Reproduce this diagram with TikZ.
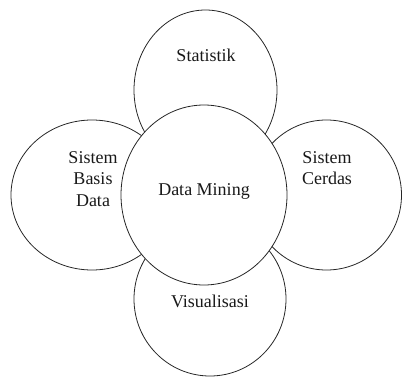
\documentclass[tikz,border=0pt]{standalone}
\usepackage{fontspec}
\setmainfont{Liberation Serif}
\usetikzlibrary{shapes.geometric}
\tikzset{
  blob/.style={ellipse, draw=black!85, line width=0.8pt, inner sep=0pt, outer sep=0pt},
  lbl/.style={font=\fontsize{18}{21.5}\selectfont, align=center, inner sep=0pt, text=black!90}
}
\begin{document}
\begin{tikzpicture}[x=1pt,y=-1pt]
\useasboundingbox (0,0) rectangle (402,378);
\clip (0,0) rectangle (402,378);
\node[blob, minimum width=143, minimum height=160] (top) at (205.5,90) {};
\node[blob, minimum width=162, minimum height=150] (left) at (92,195) {};
\node[blob, minimum width=150, minimum height=150] (right) at (326.5,195) {};
\node[blob, minimum width=152, minimum height=154] (bottom) at (210,299) {};
\node[blob, fill=white, minimum width=166, minimum height=180] (center) at (204,195) {};
\node[lbl] (tl) at (206,55) {Statistik};
\node[lbl] (ll) at (93,179) {Sistem\\Basis\\Data};
\node[lbl] (cl) at (204,191) {Data Mining};
\node[lbl] (rl) at (327,168) {Sistem\\Cerdas};
\node[lbl] (bl) at (210,301) {Visualisasi};
\end{tikzpicture}
\end{document}
